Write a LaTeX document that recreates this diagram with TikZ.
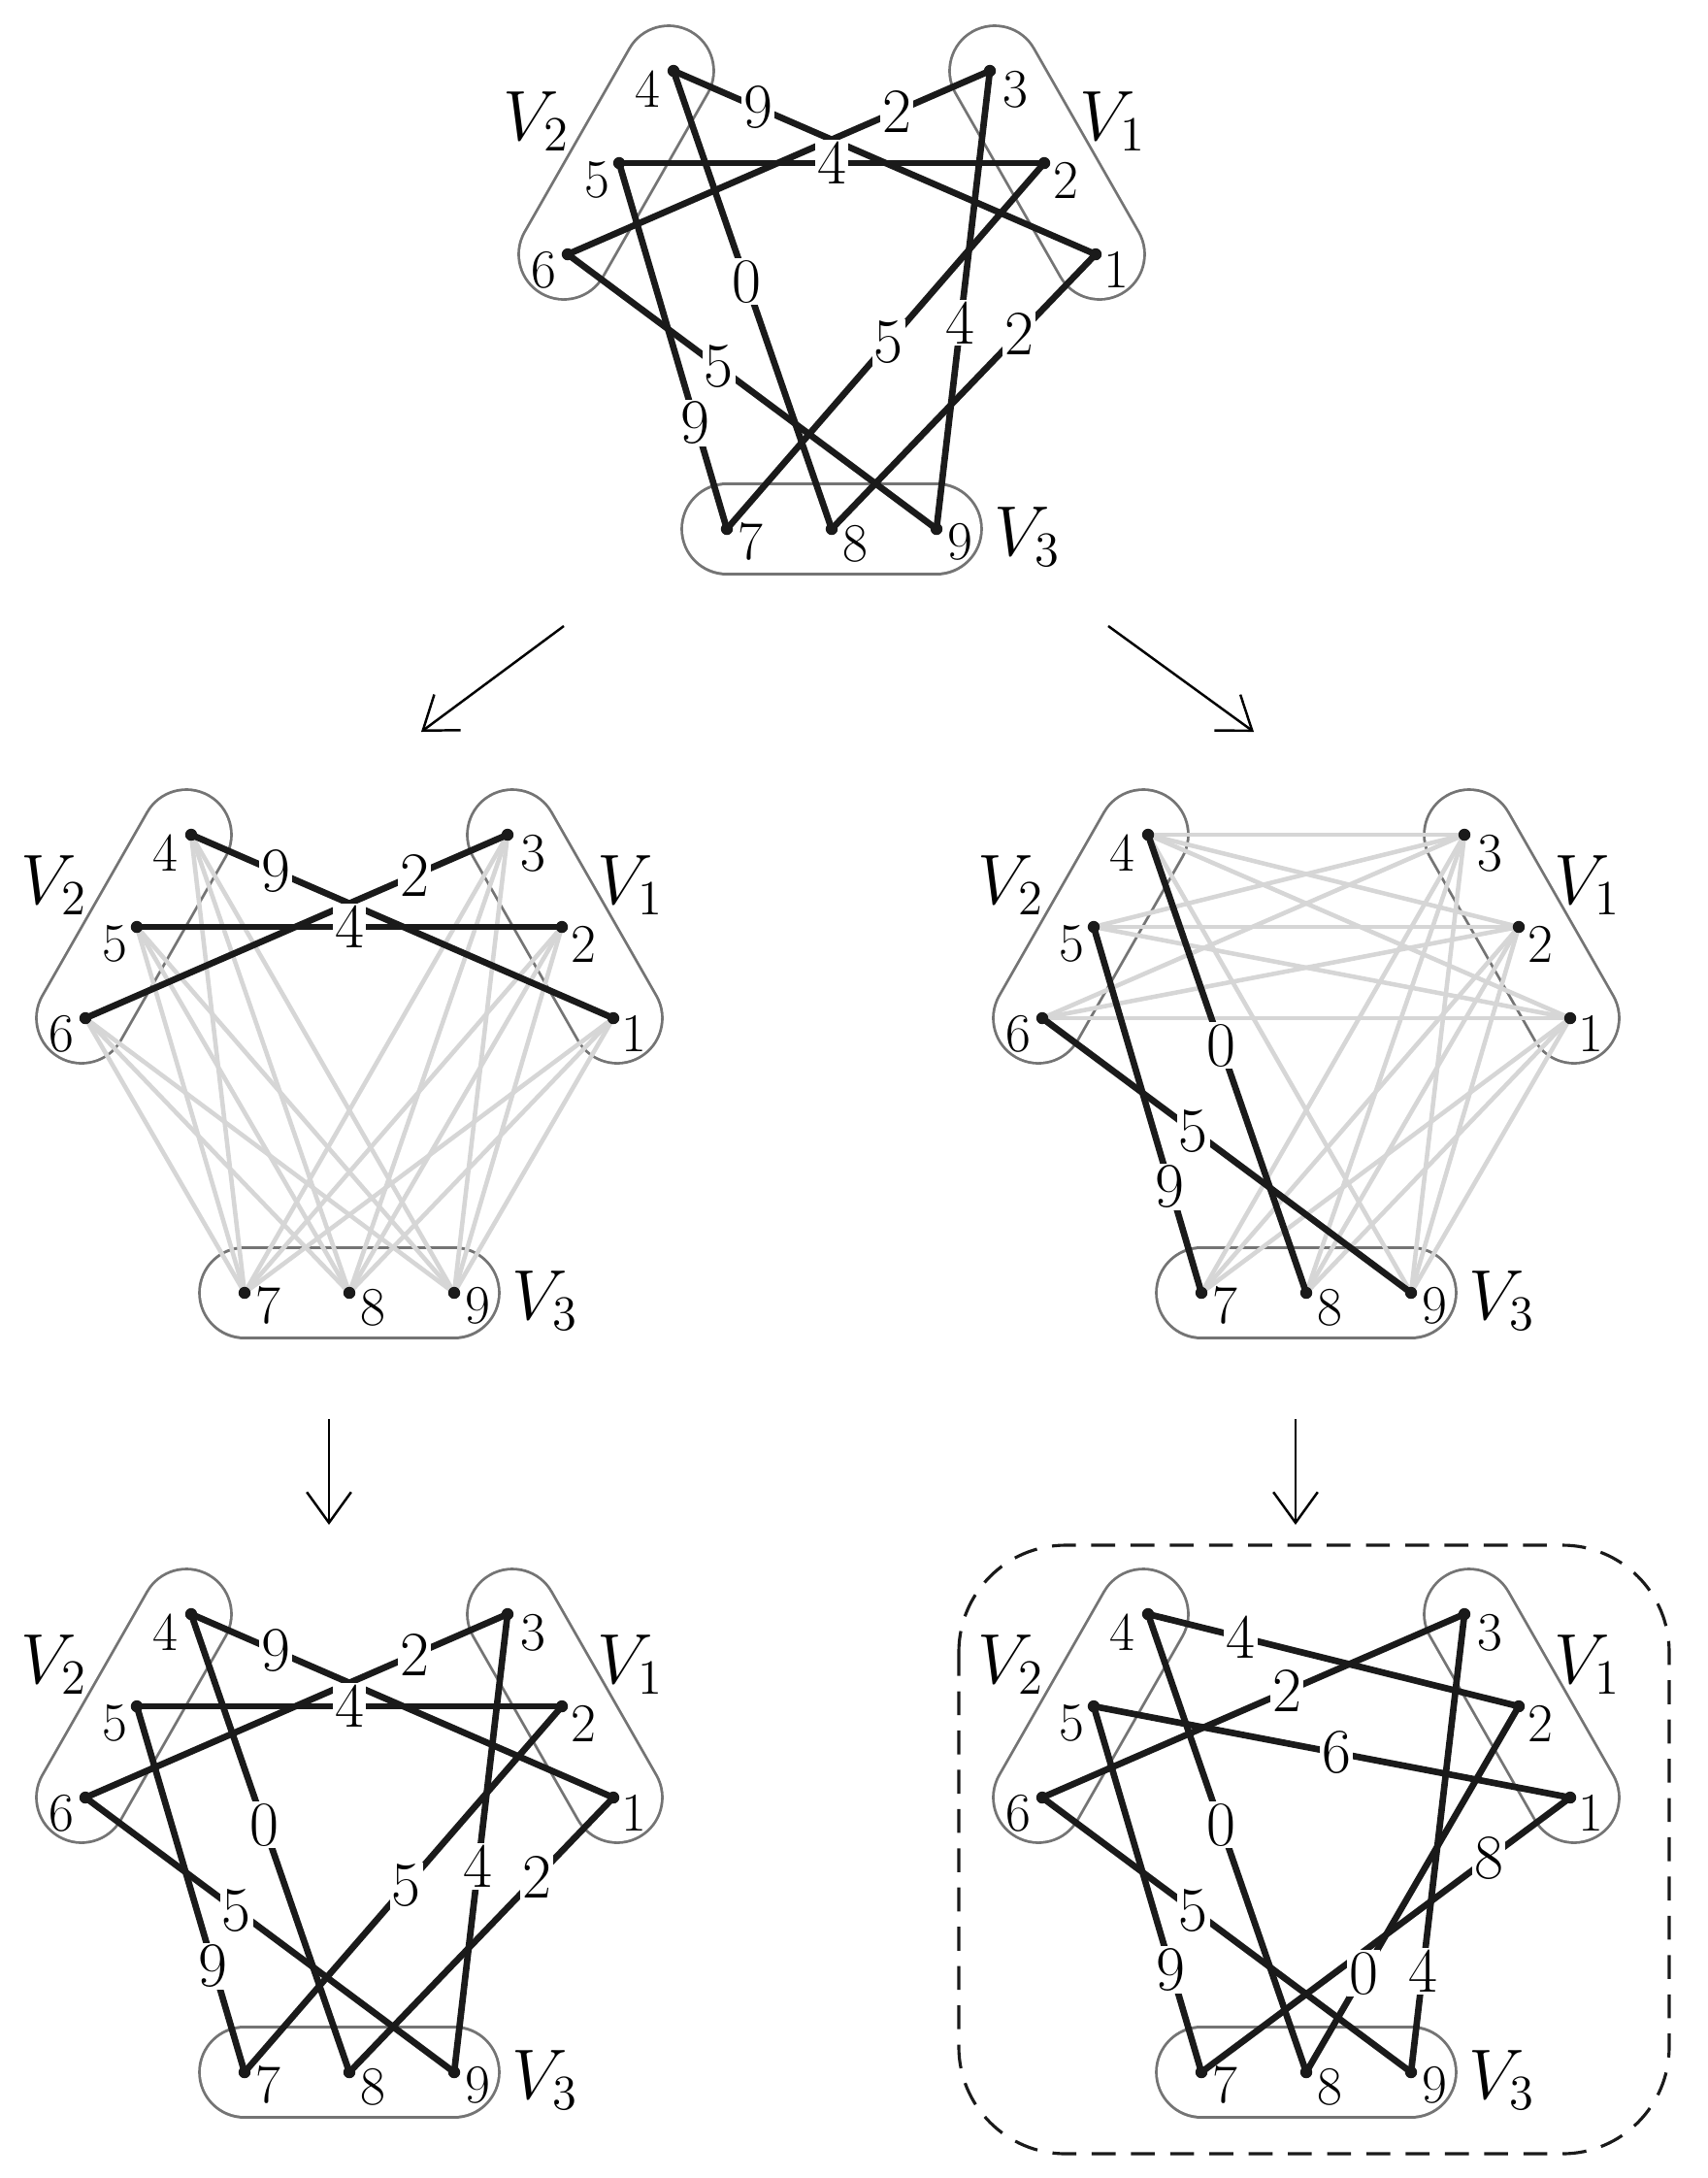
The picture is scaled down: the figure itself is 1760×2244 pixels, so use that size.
\documentclass[tikz,border=0pt]{standalone}
\usetikzlibrary{arrows.meta}
\definecolor{grpgray}{HTML}{747474}
\definecolor{edgegray}{HTML}{D6D6D6}
\definecolor{ink}{HTML}{1A1A1A}
\tikzset{
  x=0.01cm, y=-0.01cm,
  grp/.style={draw=grpgray, line width=0.8pt, double=white, double distance=0.9cm, line cap=round},
  blk/.style={draw=ink, line width=1.9pt},
  gry/.style={draw=edgegray, line width=1.3pt},
  wlab/.style={fill=white, inner sep=0.6pt, font=\fontsize{18.5}{20}\selectfont},
  nlab/.style={font=\fontsize{16}{18}\selectfont, inner sep=0pt},
  glab/.style={font=\fontsize{21}{24}\selectfont, inner sep=0pt},
  arr/.style={-{Straight Barb[length=9pt,width=13pt]}, line width=0.7pt},
  dashbox/.style={draw=ink, line width=0.9pt, dash pattern=on 7pt off 4.5pt, rounded corners=1.1cm}
}
\newcommand\mkgraph[3]{%
  \coordinate (#1-4) at (#2-163,#3);
  \coordinate (#1-3) at (#2+163,#3);
  \coordinate (#1-5) at (#2-219,#3+95);
  \coordinate (#1-2) at (#2+219,#3+95);
  \coordinate (#1-6) at (#2-272,#3+189);
  \coordinate (#1-1) at (#2+272,#3+189);
  \coordinate (#1-7) at (#2-108,#3+472);
  \coordinate (#1-8) at (#2,#3+472);
  \coordinate (#1-9) at (#2+108,#3+472);
  \draw[grp] (#2-168,#3) -- (#2-276,#3+189);
  \draw[grp] (#2+168,#3) -- (#2+276,#3+189);
  \draw[grp] (#2-108,#3+472) -- (#2+108,#3+472);
  \node[glab] at (#2-304,#3+52) {$V_2$};
  \node[glab] at (#2+290,#3+52) {$V_1$};
  \node[glab] at (#2+202,#3+480) {$V_3$};
}
\newcommand\grayedges[2]{%
  \foreach \a/\b in {#2} \draw[gry] (#1-\a) -- (#1-\b);
}
\newcommand\blackedges[2]{%
  \foreach \a/\b/\t/\l in {#2} \draw[blk] (#1-\a) -- (#1-\b);
  \foreach \a/\b/\t/\l in {#2} \path (#1-\a) -- (#1-\b) node[wlab, pos=\t] {\l};
}
\newcommand\finishgraph[1]{%
  \foreach \i in {1,...,9} \fill[ink] (#1-\i) circle (0.062cm);
  \foreach \i/\dx/\dy in {4/-27/19, 3/26/19, 5/-23/17, 2/22/18, 6/-25/16, 1/21/16, 7/24/13, 8/24/15, 9/24/13}
    \node[nlab] at ([shift={(\dx,\dy)}]#1-\i) {\i};
}
\begin{document}
\begin{tikzpicture}
\useasboundingbox (0,0) rectangle (1760,2244);
% top graph
\mkgraph{T}{857}{73}
\blackedges{T}{4/1/0.2/9, 3/6/0.22/2, 5/2/0.5/4, 4/8/0.46/0, 6/9/0.41/5, 5/7/0.71/9, 2/7/0.49/5, 3/9/0.55/4, 1/8/0.29/2}
\finishgraph{T}
% middle left
\mkgraph{L}{360}{860}
\grayedges{L}{1/7,1/8,1/9,2/7,2/8,2/9,3/7,3/8,3/9,4/7,4/8,4/9,5/7,5/8,5/9,6/7,6/8,6/9}
\blackedges{L}{4/1/0.2/9, 3/6/0.22/2, 5/2/0.5/4}
\finishgraph{L}
% middle right
\mkgraph{R}{1346}{860}
\grayedges{R}{4/1,4/2,4/3,5/1,5/2,5/3,6/1,6/2,6/3,1/7,1/8,1/9,2/7,2/8,2/9,3/7,3/8,3/9,4/9}
\blackedges{R}{4/8/0.46/0, 6/9/0.41/5, 5/7/0.71/9}
\finishgraph{R}
% bottom left
\mkgraph{BL}{360}{1663}
\blackedges{BL}{4/1/0.2/9, 3/6/0.22/2, 5/2/0.5/4, 4/8/0.46/0, 6/9/0.41/5, 5/7/0.71/9, 2/7/0.49/5, 3/9/0.55/4, 1/8/0.29/2}
\finishgraph{BL}
% bottom right
\draw[dashbox] (988,1592) rectangle (1720,2219);
\mkgraph{BR}{1346}{1663}
\blackedges{BR}{4/2/0.25/4, 3/6/0.42/2, 5/1/0.51/6, 4/8/0.46/0, 6/9/0.41/5, 5/7/0.72/9, 3/9/0.78/4, 2/8/0.73/0, 1/7/0.22/8}
\finishgraph{BR}
% arrows
\coordinate (a1s) at (581,645); \coordinate (a1e) at (434,754);
\coordinate (a2s) at (1142,645); \coordinate (a2e) at (1292,754);
\coordinate (a3s) at (339,1462); \coordinate (a3e) at (339,1571);
\coordinate (a4s) at (1335,1462); \coordinate (a4e) at (1335,1571);
\draw[arr] (a1s) -- (a1e);
\draw[arr] (a2s) -- (a2e);
\draw[arr] (a3s) -- (a3e);
\draw[arr] (a4s) -- (a4e);
\end{tikzpicture}
\end{document}
